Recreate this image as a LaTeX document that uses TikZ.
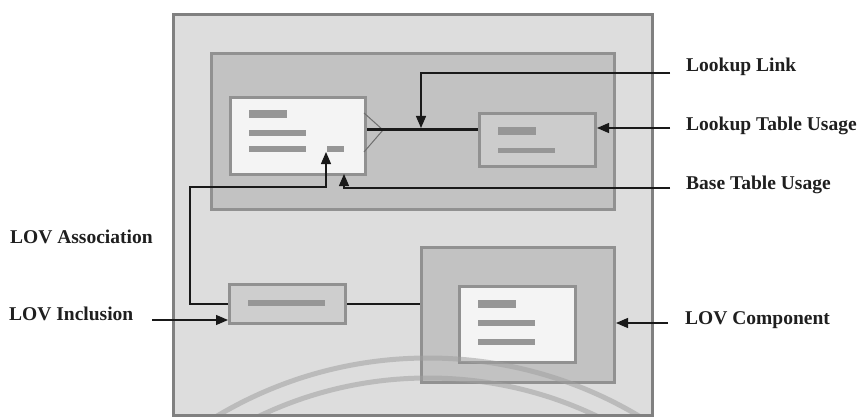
\documentclass[tikz,border=0pt]{standalone}
\usepackage{fontspec}
\setmainfont{Liberation Serif}
\usetikzlibrary{arrows.meta}
\definecolor{frameFill}{RGB}{221,221,221}
\definecolor{frameDraw}{RGB}{128,128,128}
\definecolor{upperFill}{RGB}{194,194,194}
\definecolor{boxDraw}{RGB}{145,145,145}
\definecolor{whiteFill}{RGB}{244,244,244}
\definecolor{lookFill}{RGB}{204,204,204}
\definecolor{inclFill}{RGB}{206,206,206}
\definecolor{compFill}{RGB}{194,194,194}
\definecolor{barCol}{RGB}{150,150,150}
\definecolor{connCol}{RGB}{25,25,25}
\definecolor{arcCol}{RGB}{160,160,160}
\definecolor{crowCol}{RGB}{110,110,110}
\begin{document}
\begin{tikzpicture}[x=1pt,y=-1pt,
  boxnode/.style={draw=boxDraw,line width=3pt,inner sep=0pt,anchor=north west},
  conn/.style={draw=connCol,line width=1.3pt,-{Triangle[length=12pt,width=10pt]}},
  plainconn/.style={draw=connCol,line width=1.3pt},
  thickconn/.style={draw=connCol,line width=3pt},
  crow/.style={draw=crowCol,line width=1pt},
  lbl/.style={font=\fontsize{19.5}{22}\selectfont\bfseries,text=black!88,inner sep=0pt,anchor=base west},
  bar/.style={fill=barCol},
  arcline/.style={draw=arcCol,line width=5pt,opacity=0.55}]
\useasboundingbox (0,0) rectangle (862,417);
\fill[white] (0,0) rectangle (862,417);
% boxes
\node[boxnode,draw=frameDraw,fill=frameFill,minimum width=479pt,minimum height=401pt] (frame) at (172,13) {};
\node[boxnode,fill=upperFill,minimum width=403pt,minimum height=156pt] (upper) at (210,52) {};
\node[boxnode,fill=whiteFill,minimum width=135pt,minimum height=77pt] (base) at (229,96) {};
\node[boxnode,fill=lookFill,minimum width=116pt,minimum height=53pt] (lookup) at (478,112) {};
\node[boxnode,fill=inclFill,minimum width=116pt,minimum height=39pt] (incl) at (228,283) {};
\node[boxnode,fill=compFill,minimum width=193pt,minimum height=135pt] (comp) at (420,246) {};
\node[boxnode,fill=whiteFill,minimum width=116pt,minimum height=76pt] (compin) at (458,285) {};
% bars
\fill[bar] (249,110) rectangle (287,118);
\fill[bar] (249,130) rectangle (306,136);
\fill[bar] (249,146) rectangle (306,152);
\fill[bar] (327,146) rectangle (344,152);
\fill[bar] (498,127) rectangle (536,135);
\fill[bar] (498,148) rectangle (555,153);
\fill[bar] (248,300) rectangle (325,306);
\fill[bar] (478,300) rectangle (516,308);
\fill[bar] (478,320) rectangle (535,326);
\fill[bar] (478,339) rectangle (535,345);
% arcs
\begin{scope}
\clip (173.5,14.5) rectangle (649.5,413.5);
\draw[arcline] (428,770) circle[radius=412pt];
\draw[arcline] (428,770) circle[radius=392pt];
\end{scope}
% labels
\node[lbl] (tLL) at (686,72) {Lookup Link};
\node[lbl] (tLT) at (686,131) {Lookup Table Usage};
\node[lbl] (tBT) at (686,189) {Base Table Usage};
\node[lbl] (tLA) at (10,243) {LOV Association};
\node[lbl] (tLI) at (9,320) {LOV Inclusion};
\node[lbl] (tLC) at (685,324) {LOV Component};
% coordinates
\coordinate (yL) at (0,130);
\coordinate (cfTop) at (364,113);
\coordinate (cfTip) at (383,130);
\coordinate (cfBot) at (364,152);
\coordinate (llA) at (670,73);
\coordinate (llTip) at (421,128);
\coordinate (ltA) at (670,128);
\coordinate (btA) at (670,188);
\coordinate (btTip) at (344,174);
\coordinate (aCorner) at (190,187);
\coordinate (aTip) at (326,152);
\coordinate (liA) at (152,320);
\coordinate (lcA) at (668,323);
% connectors
\draw[crow] (cfTop) -- (cfTip) -- (cfBot);
\draw[thickconn] (base.east |- yL) -- (lookup.west |- yL);
\draw[conn] (llA) -| (llTip);
\draw[conn] (ltA) -- (lookup.east |- ltA);
\draw[conn] (btA) -| (btTip);
\draw[conn] (incl.west) -| (aCorner) -| (aTip);
\draw[conn] (liA) -- (incl.west |- liA);
\draw[plainconn] (incl.east) -- (comp.west |- incl.east);
\draw[conn] (lcA) -- (comp.east |- lcA);
\end{tikzpicture}
\end{document}
